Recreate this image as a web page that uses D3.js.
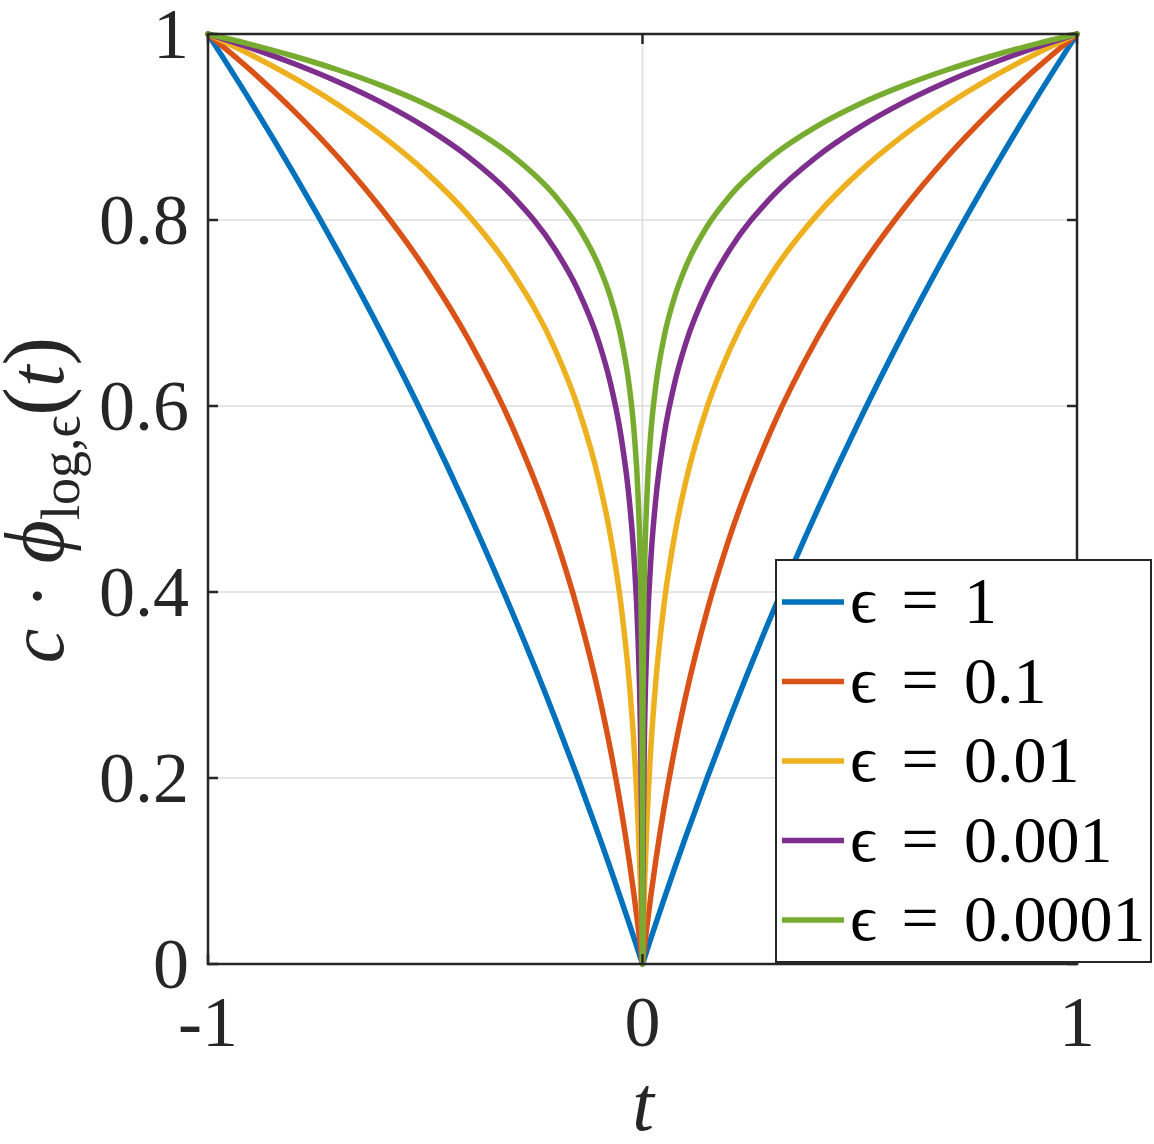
<!DOCTYPE html>
<html>
<head>
<meta charset="utf-8">
<script src="https://cdn.jsdelivr.net/npm/d3@7"></script>
<style>
  html, body { margin: 0; padding: 0; background: #fff; }
  svg { display: block; }
</style>
</head>
<body>
<svg id="chart" width="1154" height="1144"></svg>
<script>
// ---- data (positive half of t; curves are symmetric in t) ----
const tValues = [0, 0.0001, 0.0005, 0.001, 0.002, 0.005, 0.01, 0.02, 0.03, 0.05, 0.075, 0.1, 0.15, 0.2, 0.3, 0.4, 0.5, 0.6, 0.7, 0.8, 0.9, 1];
const seriesEps = ["1", "0.1", "0.01", "0.001", "0.0001"];
const eps1     = [0, 0.00014, 0.00072, 0.00144, 0.00289, 0.0072, 0.0144, 0.0286, 0.0427, 0.0704, 0.1043, 0.1375, 0.2016, 0.2630, 0.3785, 0.4854, 0.5850, 0.6781, 0.7655, 0.8480, 0.9260, 1];
const eps01    = [0, 0.0004, 0.00208, 0.00415, 0.00826, 0.0204, 0.0398, 0.0760, 0.1094, 0.1691, 0.2334, 0.2891, 0.3821, 0.4582, 0.5781, 0.6712, 0.7472, 0.8115, 0.8672, 0.9163, 0.9603, 1];
const eps001   = [0, 0.00216, 0.01057, 0.02065, 0.0395, 0.0879, 0.1502, 0.2380, 0.3004, 0.3882, 0.4637, 0.5196, 0.6008, 0.6597, 0.7441, 0.8047, 0.8520, 0.8907, 0.9236, 0.9522, 0.9774, 1];
const eps0001  = [0, 0.0138, 0.0587, 0.1003, 0.1590, 0.2593, 0.3471, 0.4407, 0.4971, 0.5691, 0.6268, 0.6680, 0.7262, 0.7676, 0.8261, 0.8676, 0.8998, 0.9262, 0.9484, 0.9677, 0.9848, 1];
const eps00001 = [0, 0.0753, 0.1945, 0.2603, 0.3306, 0.4269, 0.5011, 0.5758, 0.6196, 0.6750, 0.7189, 0.7501, 0.7941, 0.8253, 0.8693, 0.9005, 0.9248, 0.9445, 0.9613, 0.9758, 0.9886, 1];
const seriesValues = [eps1, eps01, eps001, eps0001, eps00001];
const xTicks = [-1, 0, 1];
const xTickLabels = ["-1", "0", "1"];
const yTicks = [0, 0.2, 0.4, 0.6, 0.8, 1];
const yTickLabels = ["0", "0.2", "0.4", "0.6", "0.8", "1"];
const colors = ["#0072BD", "#D95319", "#EDB120", "#7E2F8E", "#77AC30"];

// ---- layout ----
const svg = d3.select("#chart");
const L = 208, R = 1077, T = 34, B = 964;
const x = d3.scaleLinear().domain([-1, 1]).range([L, R]);
const y = d3.scaleLinear().domain([0, 1]).range([B, T]);
const font = "'Liberation Serif', 'DejaVu Serif', serif";
const axisColor = "#262626";

// grid
const grid = svg.append("g");
grid.selectAll(".gx").data(xTicks).enter().append("line")
  .attr("x1", d => x(d)).attr("x2", d => x(d)).attr("y1", T).attr("y2", B)
  .attr("stroke", "#dcdcdc").attr("stroke-width", 1.6);
grid.selectAll(".gy").data(yTicks).enter().append("line")
  .attr("x1", L).attr("x2", R).attr("y1", d => y(d)).attr("y2", d => y(d))
  .attr("stroke", "#dcdcdc").attr("stroke-width", 1.6);

// curves
const line = d3.line().x(d => x(d[0])).y(d => y(d[1])).curve(d3.curveMonotoneX);
seriesValues.forEach((vals, i) => {
  const left = tValues.map((t, j) => [-t, vals[j]]).reverse();
  const right = tValues.map((t, j) => [t, vals[j]]).slice(1);
  svg.append("path").datum(left.concat(right))
    .attr("d", line).attr("fill", "none")
    .attr("stroke", colors[i]).attr("stroke-width", 5.5)
    .attr("stroke-linejoin", "round").attr("stroke-linecap", "round");
});

// axes box
const ax = svg.append("g");
ax.append("rect").attr("x", L).attr("y", T).attr("width", R - L).attr("height", B - T)
  .attr("fill", "none").attr("stroke", axisColor).attr("stroke-width", 2.5);
const tl = 10;
xTicks.forEach(d => {
  ax.append("line").attr("x1", x(d)).attr("x2", x(d)).attr("y1", B).attr("y2", B - tl).attr("stroke", axisColor).attr("stroke-width", 2.5);
  ax.append("line").attr("x1", x(d)).attr("x2", x(d)).attr("y1", T).attr("y2", T + tl).attr("stroke", axisColor).attr("stroke-width", 2.5);
});
yTicks.forEach(d => {
  ax.append("line").attr("x1", L).attr("x2", L + tl).attr("y1", y(d)).attr("y2", y(d)).attr("stroke", axisColor).attr("stroke-width", 2.5);
  ax.append("line").attr("x1", R).attr("x2", R - tl).attr("y1", y(d)).attr("y2", y(d)).attr("stroke", axisColor).attr("stroke-width", 2.5);
});

// tick labels
svg.selectAll(".xt").data(xTicks).enter().append("text")
  .attr("x", d => x(d)).attr("y", 1046)
  .attr("text-anchor", "middle").attr("font-family", font).attr("font-size", 72)
  .attr("fill", axisColor).text((d, i) => xTickLabels[i]);
svg.selectAll(".yt").data(yTicks).enter().append("text")
  .attr("x", 189).attr("y", d => y(d) + 24)
  .attr("text-anchor", "end").attr("font-family", font).attr("font-size", 72)
  .attr("fill", axisColor).text((d, i) => yTickLabels[i]);

// x label
svg.append("text").attr("x", 643).attr("y", 1130).attr("text-anchor", "middle")
  .attr("font-family", font).attr("font-size", 78).attr("font-style", "italic")
  .attr("fill", axisColor).text("t");

// y label
const yl = svg.append("text")
  .attr("transform", "translate(63,500) rotate(-90)")
  .attr("text-anchor", "middle").attr("font-family", font).attr("font-size", 78)
  .attr("fill", axisColor);
yl.append("tspan").attr("font-style", "italic").text("c");
yl.append("tspan").text(" · ");
yl.append("tspan").attr("font-style", "italic").attr("font-size", 84).text("ϕ");
yl.append("tspan").attr("font-size", 54).attr("dy", 16).text("log,");
yl.append("tspan").attr("font-size", 54).text("ϵ");
yl.append("tspan").attr("dy", -16).attr("font-size", 86).text("(");
yl.append("tspan").attr("font-style", "italic").text("t");
yl.append("tspan").attr("font-size", 86).text(")");

// legend
const lg = svg.append("g");
lg.append("rect").attr("x", 776).attr("y", 560).attr("width", 375).attr("height", 402)
  .attr("fill", "#fff").attr("stroke", axisColor).attr("stroke-width", 2);
const ly = d3.scalePoint().domain(d3.range(seriesEps.length)).range([602, 920]);
seriesEps.forEach((v, i) => {
  lg.append("line").attr("x1", 782).attr("x2", 844).attr("y1", ly(i)).attr("y2", ly(i))
    .attr("stroke", colors[i]).attr("stroke-width", 5.5);
  lg.append("text").attr("x", 850).attr("y", ly(i) + 20)
    .attr("font-family", font).attr("font-size", 66).attr("fill", "#000").text("ϵ");
  lg.append("text").attr("x", 920).attr("y", ly(i) + 20).attr("text-anchor", "middle")
    .attr("font-family", font).attr("font-size", 66).attr("fill", "#000").text("=");
  lg.append("text").attr("x", 964).attr("y", ly(i) + 21)
    .attr("font-family", font).attr("font-size", 66).attr("fill", "#000").text(v);
});
</script>
</body>
</html>
